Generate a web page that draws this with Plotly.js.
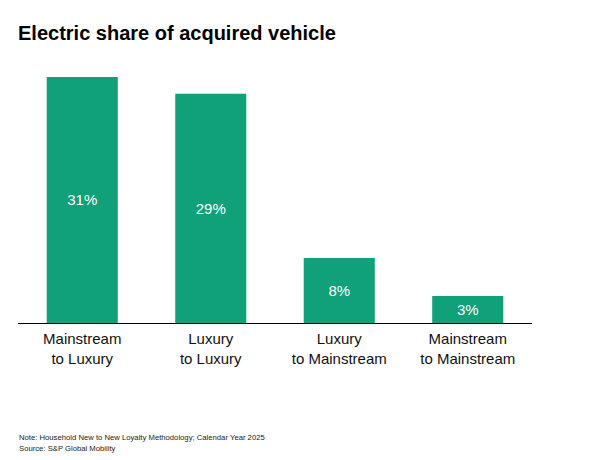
<!DOCTYPE html>
<html>
<head>
<meta charset="utf-8">
<script src="https://cdn.plot.ly/plotly-3.0.1.min.js"></script>
<style>html,body{margin:0;padding:0;background:#fff;}#chart{width:589px;height:460px;}</style>
</head>
<body>
<div id="chart"></div>
<script>
// Data
var categories = ["Mainstream<br>to Luxury", "Luxury<br>to Luxury", "Luxury<br>to Mainstream", "Mainstream<br>to Mainstream"];
var electricShare = [31.0, 28.9, 8.2, 3.4];
var barLabels = ["31%", "29%", "8%", "3%"];
var titleText = "Electric share of acquired vehicle";
var noteText = "Note: Household New to New Loyalty Methodology; Calendar Year 2025";
var sourceText = "Source: S&P Global Mobility";

var FONT = "Arial, 'Liberation Sans', sans-serif";

var trace = {
  type: "bar",
  x: categories,
  y: electricShare,
  text: barLabels,
  textposition: "inside",
  insidetextanchor: "middle",
  textangle: 0,
  textfont: {family: FONT, size: 15, color: "#ffffff"},
  marker: {color: "#10a07a"},
  width: 0.553,
  hoverinfo: "none",
  cliponaxis: false
};

var layout = {
  width: 589,
  height: 460,
  margin: {l: 18, r: 57, t: 60, b: 137},
  paper_bgcolor: "#ffffff",
  plot_bgcolor: "#ffffff",
  showlegend: false,
  title: {
    text: "<b>" + titleText + "</b>",
    font: {family: FONT, size: 20, color: "#000000"},
    x: 18 / 589, xanchor: "left", xref: "container",
    y: 1 - 33 / 460, yanchor: "middle", yref: "container"
  },
  xaxis: {
    type: "category",
    showgrid: false,
    zeroline: false,
    showline: true,
    linecolor: "#000000",
    linewidth: 1,
    ticks: "",
    ticklabelstandoff: 2,
    tickfont: {family: FONT, size: 15, color: "#111111"},
    fixedrange: true
  },
  yaxis: {
    range: [0, 33.14],
    visible: false,
    showgrid: false,
    zeroline: false,
    fixedrange: true
  },
  annotations: [
    {
      text: noteText, xref: "paper", yref: "paper",
      x: 0 - 1 / 514, y: -(437 - 323) / 263, xanchor: "left", yanchor: "middle",
      showarrow: false, font: {family: FONT, size: 7.7, color: "#222222"}
    },
    {
      text: sourceText, xref: "paper", yref: "paper",
      x: 0 - 1 / 514, y: -(449 - 323) / 263, xanchor: "left", yanchor: "middle",
      showarrow: false, font: {family: FONT, size: 7.7, color: "#222222"}
    }
  ]
};

Plotly.newPlot("chart", [trace], layout, {staticPlot: true, displayModeBar: false});
</script>
</body>
</html>
